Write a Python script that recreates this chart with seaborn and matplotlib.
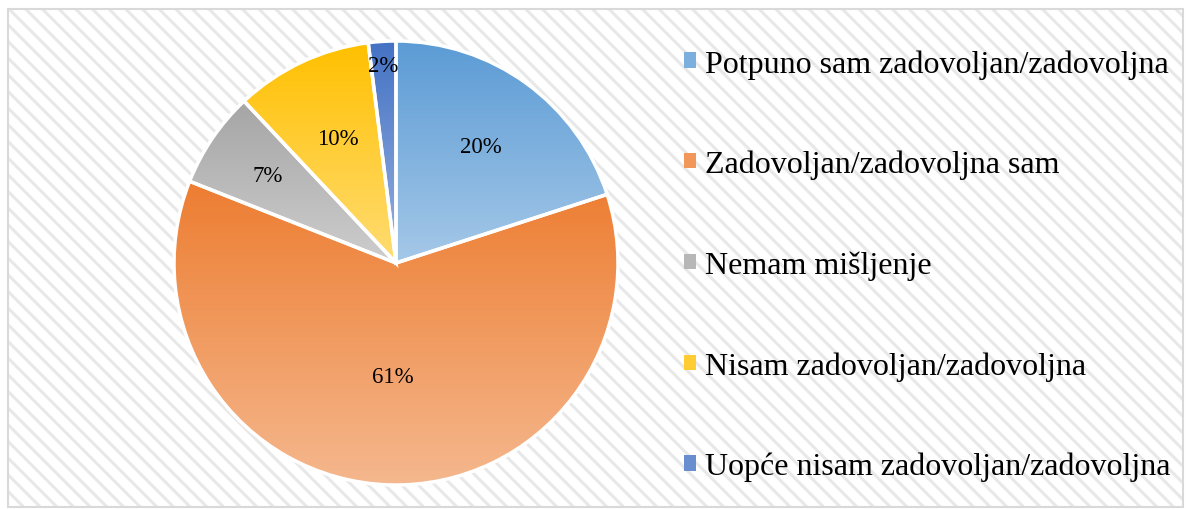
import numpy as np
import seaborn as sns
import matplotlib.pyplot as plt
from matplotlib.colors import to_rgb
from matplotlib.patches import Rectangle

# data
categories = [
    "Potpuno sam zadovoljan/zadovoljna",
    "Zadovoljan/zadovoljna sam",
    "Nemam mišljenje",
    "Nisam zadovoljan/zadovoljna",
    "Uopće nisam zadovoljan/zadovoljna",
]
shares = [20, 61, 7, 10, 2]
base_colors = ["#5B9BD5", "#ED7D31", "#A5A5A5", "#FFC000", "#4472C4"]
# radial position of each percentage label (fraction of radius)
label_dist = [0.65, 0.51, 0.70, 0.62, 0.89]

sns.set_theme(style="white")
plt.rcParams["font.family"] = ["Liberation Serif", "DejaVu Serif"]
plt.rcParams["hatch.linewidth"] = 2.2

W, H = 1189, 510
fig = plt.figure(figsize=(W / 100, H / 100), dpi=100)
fig.patch.set_facecolor("white")

# hatched chart area with light grey border
bg = fig.add_axes([0, 0, 1, 1])
bg.set_xlim(0, W)
bg.set_ylim(H, 0)
bg.axis("off")
bg.add_patch(Rectangle((8, 10), 1175, 498, facecolor="white", edgecolor="#e8e8e8",
                       hatch="\\\\", linewidth=0))
bg.add_patch(Rectangle((8, 10), 1175, 498, facecolor="none", edgecolor="#d9d9d9",
                       linewidth=1.5))

# pie axes
cx, cy, r = 396, 264, 222
ax = fig.add_axes([(cx - r) / W, (H - cy - r) / H, 2 * r / W, 2 * r / H])
ax.axis("off")

palette = sns.color_palette(base_colors)
wedges, _ = ax.pie(shares, colors=palette, startangle=90, counterclock=False,
                   radius=1, wedgeprops=dict(edgecolor="white", linewidth=2.5))


def lighten(c, f):
    c = np.array(to_rgb(c))
    return c + (1 - c) * f


# vertical gradient fill inside each wedge: base colour on top, lighter at bottom
for w, c in zip(wedges, palette):
    ext = w.get_path().get_extents()
    t = np.linspace(0, 1, 256)[:, None]
    top, bot = lighten(c, 0.0), lighten(c, 0.45)
    grad = (top[None, :] * (1 - t) + bot[None, :] * t)[:, None, :]
    im = ax.imshow(grad, extent=(ext.x0, ext.x1, ext.y0, ext.y1), origin="upper",
                   aspect="auto", zorder=1, interpolation="bilinear")
    im.set_clip_path(w)
    w.set_facecolor("none")
    w.set_zorder(2)

# percentage labels
cum = 0
for v, d in zip(shares, label_dist):
    ang = np.deg2rad(90 - 360 * (cum + v / 2) / sum(shares))
    ax.text(d * np.cos(ang), d * np.sin(ang), f"{v}%", ha="center", va="center",
            fontsize=16.5, color="black", zorder=3)
    cum += v

ax.set_xlim(-1, 1)
ax.set_ylim(-1, 1)

# legend
handles = [Rectangle((0, 0), 1, 1, facecolor=lighten(c, 0.2), edgecolor="none") for c in palette]
fig.legend(handles, categories, loc="upper left", bbox_to_anchor=(684 / W, 1 - 50 / H),
           frameon=False, fontsize=23, handlelength=0.36, handleheight=0.36,
           handletextpad=0.3, labelspacing=2.23, borderpad=0, borderaxespad=0,
           labelcolor="black")

fig.savefig("out.png", dpi=100)
